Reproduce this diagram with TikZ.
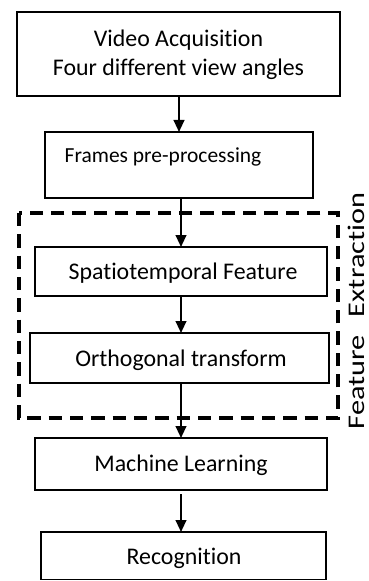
\documentclass[tikz,border=0pt]{standalone}
\usepackage{fontspec}
\setmainfont{Carlito}[RawFeature=-liga]
\usetikzlibrary{arrows.meta}
\begin{document}
\begin{tikzpicture}[x=0.75pt,y=-0.75pt,
  box/.style={draw,line width=1.2pt,inner sep=0pt},
  conn/.style={line width=1.5pt,-{Triangle[length=9pt,width=8pt]}},
  txt/.style={font=\fontsize{17.9}{21.5}\selectfont,inner sep=0pt}]
\useasboundingbox (0,0) rectangle (368,581);
% boxes
\draw[box] (17,12) rectangle (340,96);
\node[txt,align=center] (va) at (178.5,55) {Video Acquisition\\Four different view angles};
\coordinate (vab) at (179,96);
\draw[box] (45,132) rectangle (313,198);
\coordinate (fpt) at (179,132);
\coordinate (fpb) at (181,198);
\node[txt,font=\fontsize{16.1}{19}\selectfont] (fp) at (163,157) {Frames pre-processing};
% dashed group
\draw[line width=2.3pt,dash pattern=on 10pt off 6pt] (19,213) rectangle (338,418);
\node[txt,rotate=90,xscale=1.27] (fe) at (356,311) {Feature\hspace{0.6em}Extraction};
\draw[box] (35,247) rectangle (327,296);
\node[txt] (st) at (183,273) {Spatiotemporal Feature};
\coordinate (stt) at (181,247);
\coordinate (stb) at (181,296);
\draw[box] (30,333) rectangle (329,383);
\node[txt] (ot) at (181,360) {Orthogonal transform};
\coordinate (ott) at (181,333);
\coordinate (otb) at (181,383);
\draw[box] (35,438) rectangle (327,490);
\node[txt] (ml) at (181,465) {Machine Learning};
\coordinate (mlt) at (181,438);
\coordinate (mlb) at (181,494);
\draw[box] (41,532) rectangle (326,579.5);
\node[txt] (rc) at (184,558) {Recognition};
\coordinate (rct) at (181,532);
% connectors
\draw[conn] (vab) -- (fpt);
\draw[conn] (fpb) -- (stt);
\draw[conn] (stb) -- (ott);
\draw[conn] (otb) -- (mlt);
\draw[conn] (mlb) -- (rct);
\end{tikzpicture}
\end{document}
